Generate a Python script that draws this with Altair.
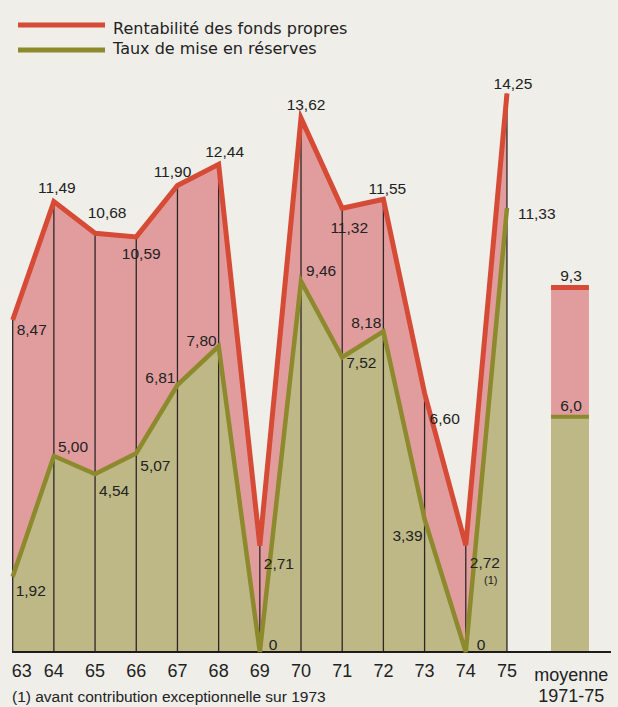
import altair as alt
import pandas as pd

# ---- data -------------------------------------------------------------
years = list(range(63, 76))
year_labels = [str(y) for y in years]
rentabilite = [8.47, 11.49, 10.68, 10.59, 11.90, 12.44, 2.71, 13.62, 11.32, 11.55, 6.60, 2.72, 14.25]
reserves = [1.92, 5.00, 4.54, 5.07, 6.81, 7.80, 0, 9.46, 7.52, 8.18, 3.39, 0, 11.33]
avg_label = ["moyenne", "1971-75"]
avg_rentabilite = 9.3
avg_reserves = 6.0
series_names = ["Rentabilité des fonds propres", "Taux de mise en réserves"]
footnote = "(1) avant contribution exceptionnelle sur 1973"
footnote_ref = "(1)"
footnote_year = 74

# ---- layout / style ---------------------------------------------------
W, H = 618, 707
PX_YEAR = 41.19          # pixels between two years
X0 = 62.692              # year value at the left edge
BASE = 652               # pixel row of the zero line
PX_UNIT = 39.2           # pixels per percentage point
AVG_POS = 76.53          # slot of the 1971-75 average bar
AVG_HALF = 0.46

BG = "#efeee9"
RED = "#d64b36"
PINK = "#e19d9e"
OLIVE_LINE = "#8d8a2e"
OLIVE_FILL = "#bdb886"
INK = "#222222"
FONT = "Liberation Sans"
LEGEND_FONT = "DejaVu Sans"

xs = alt.Scale(domain=[X0, X0 + W / PX_YEAR], nice=False, zero=False)
ys = alt.Scale(domain=[-(H - BASE) / PX_UNIT, BASE / PX_UNIT], nice=False, zero=False)


def fr(v, digits=2):
    """French decimal notation."""
    return "0" if v == 0 else f"{v:.{digits}f}".replace(".", ",")


df = pd.DataFrame({"year": years, "rent": rentabilite, "res": reserves,
                   "zero": [0] * len(years)})

# label anchors: (align, dx, dy) in pixels around each point
red_pos = {
    63: ("left", 4, 10), 64: ("center", 3, -14), 65: ("center", 12, -20),
    66: ("center", 5, 17), 67: ("center", -5, -14), 68: ("center", 6, -12),
    69: ("left", 4, 18), 70: ("center", 5, -13), 71: ("center", 7, 20),
    72: ("center", 4, -10), 73: ("left", 5, 26), 74: ("left", 4, 18),
    75: ("center", 6, -9),
}
olive_pos = {
    63: ("left", 3, 14), 64: ("left", 4, -9), 65: ("left", 4, 17),
    66: ("left", 4, 13), 67: ("right", -2, -7), 68: ("right", -2, -5),
    69: ("left", 9, -7), 70: ("left", 5, -10), 71: ("left", 4, 6),
    72: ("right", -2, -8), 73: ("right", -2, 17), 74: ("left", 11, -7),
    75: ("left", 11, 6),
}
# the first year label sits inside the frame
tick_dx = {63: 9}

rows = []
for y, r, s in zip(years, rentabilite, reserves):
    a, dx, dy = red_pos[y]
    rows.append({"year": y, "value": r, "text": fr(r), "align": a, "dx": dx, "dy": dy})
    a, dx, dy = olive_pos[y]
    rows.append({"year": y, "value": s, "text": fr(s), "align": a, "dx": dx, "dy": dy})
rows.append({"year": AVG_POS, "value": avg_rentabilite, "text": fr(avg_rentabilite, 1),
             "align": "center", "dx": 1, "dy": -11})
rows.append({"year": AVG_POS, "value": avg_reserves, "text": fr(avg_reserves, 1),
             "align": "center", "dx": 1, "dy": -11})
labels = pd.DataFrame(rows)

X = alt.X("year:Q", scale=xs, axis=None)

pink_area = alt.Chart(df).mark_area(color=PINK, opacity=1).encode(
    x=X, y=alt.Y("rent:Q", scale=ys, axis=None), y2="zero:Q")
olive_area = alt.Chart(df).mark_area(color=OLIVE_FILL, opacity=1).encode(
    x=X, y=alt.Y("res:Q", scale=ys, axis=None), y2="zero:Q")

avg_df = pd.DataFrame({"x": [AVG_POS - AVG_HALF], "x2": [AVG_POS + AVG_HALF],
                       "rent": [avg_rentabilite], "res": [avg_reserves], "zero": [0]})
avg_pink = alt.Chart(avg_df).mark_rect(color=PINK).encode(
    x=alt.X("x:Q", scale=xs, axis=None), x2="x2:Q",
    y=alt.Y("rent:Q", scale=ys, axis=None), y2="zero:Q")
avg_olive = alt.Chart(avg_df).mark_rect(color=OLIVE_FILL).encode(
    x=alt.X("x:Q", scale=xs, axis=None), x2="x2:Q",
    y=alt.Y("res:Q", scale=ys, axis=None), y2="zero:Q")
avg_red_cap = alt.Chart(avg_df).mark_rule(color=RED, strokeWidth=5).encode(
    x=alt.X("x:Q", scale=xs, axis=None), x2="x2:Q",
    y=alt.Y("rent:Q", scale=ys, axis=None))
avg_olive_cap = alt.Chart(avg_df).mark_rule(color=OLIVE_LINE, strokeWidth=4).encode(
    x=alt.X("x:Q", scale=xs, axis=None), x2="x2:Q",
    y=alt.Y("res:Q", scale=ys, axis=None))

verticals = alt.Chart(df).mark_rule(color="#2e2626", strokeWidth=1.3).encode(
    x=X, y=alt.Y("zero:Q", scale=ys, axis=None), y2="rent:Q")

baseline = alt.Chart(df.iloc[[0]]).mark_rule(color="#1c1c1c", strokeWidth=2).encode(
    x=alt.value(12), x2=alt.value(611), y=alt.Y("zero:Q", scale=ys, axis=None))

olive_line = alt.Chart(df).mark_line(color=OLIVE_LINE, strokeWidth=4.5).encode(
    x=X, y=alt.Y("res:Q", scale=ys, axis=None))
red_line = alt.Chart(df).mark_line(color=RED, strokeWidth=5).encode(
    x=X, y=alt.Y("rent:Q", scale=ys, axis=None))

# value labels, shifted from their point by a few pixels
value_layers = []
for a in ["left", "center", "right"]:
    value_layers.append(
        alt.Chart(labels).transform_filter(alt.datum.align == a)
        .transform_calculate(
            lx=f"datum.year + datum.dx / {PX_YEAR}",
            ly=f"datum.value - datum.dy / {PX_UNIT}")
        .mark_text(align=a, baseline="middle", font=FONT, fontSize=15.5, color=INK)
        .encode(x=alt.X("lx:Q", scale=xs, axis=None),
                y=alt.Y("ly:Q", scale=ys, axis=None), text="text:N")
    )

ref_df = pd.DataFrame({"year": [footnote_year],
                       "value": [rentabilite[years.index(footnote_year)]],
                       "text": [footnote_ref]})
ref_mark = alt.Chart(ref_df).mark_text(
    align="center", baseline="middle", font=FONT, fontSize=11, color=INK, dx=25, dy=36
).encode(x=X, y=alt.Y("value:Q", scale=ys, axis=None), text="text:N")

# category labels along the zero line
tick_df = pd.DataFrame({"year": years, "lab": year_labels,
                        "dx": [tick_dx.get(y, 0) for y in years],
                        "ty": [-(677 - BASE) / PX_UNIT] * len(years)})
tick_text = alt.Chart(tick_df).transform_calculate(
    tx=f"datum.year + datum.dx / {PX_YEAR}"
).mark_text(
    align="center", baseline="alphabetic", font=FONT, fontSize=18, color=INK
).encode(x=alt.X("tx:Q", scale=xs, axis=None),
         y=alt.Y("ty:Q", scale=ys, axis=None), text="lab:N")

avg_tick_df = pd.DataFrame({"year": [AVG_POS + 0.03], "lab": ["\n".join(avg_label)],
                            "ty": [-(681 - BASE) / PX_UNIT]})
avg_tick = alt.Chart(avg_tick_df).mark_text(
    align="center", baseline="alphabetic", font=FONT, fontSize=18, color=INK,
    lineBreak="\n", lineHeight=21
).encode(x=X, y=alt.Y("ty:Q", scale=ys, axis=None), text="lab:N")

# legend
leg_df = pd.DataFrame({"name": series_names})
leg_red = alt.Chart(leg_df.iloc[[0]]).mark_rule(color=RED, strokeWidth=5).encode(
    x=alt.value(18), x2=alt.value(105), y=alt.value(25))
leg_olive = alt.Chart(leg_df.iloc[[1]]).mark_rule(color=OLIVE_LINE, strokeWidth=5).encode(
    x=alt.value(18), x2=alt.value(105), y=alt.value(50))
leg_t1 = alt.Chart(leg_df.iloc[[0]]).mark_text(
    align="left", baseline="alphabetic", font=LEGEND_FONT, fontSize=16, color=INK
).encode(x=alt.value(113), y=alt.value(34), text="name:N")
leg_t2 = alt.Chart(leg_df.iloc[[1]]).mark_text(
    align="left", baseline="alphabetic", font=LEGEND_FONT, fontSize=16, color=INK
).encode(x=alt.value(113), y=alt.value(54), text="name:N")

note_df = pd.DataFrame({"t": [footnote]})
note = alt.Chart(note_df).mark_text(
    align="left", baseline="alphabetic", font=FONT, fontSize=15.5, color=INK
).encode(x=alt.value(12), y=alt.value(702), text="t:N")

chart = alt.layer(
    pink_area, olive_area, avg_pink, avg_olive, verticals, baseline,
    olive_line, red_line, avg_red_cap, avg_olive_cap,
    *value_layers, ref_mark, tick_text, avg_tick,
    leg_red, leg_olive, leg_t1, leg_t2, note,
).properties(
    width=W, height=H, background=BG, padding=0,
    autosize=alt.AutoSizeParams(type="none"),
).configure_view(stroke=None)

chart.save("out.html", embed_options={"renderer": "svg", "actions": False})
